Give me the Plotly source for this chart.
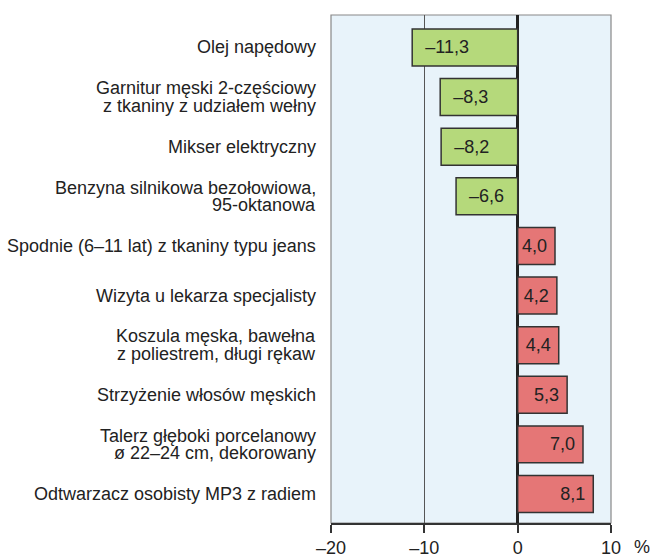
import plotly.graph_objects as go

categories = [
    "Olej napędowy",
    "Garnitur męski 2-częściowy<br>z tkaniny z udziałem wełny",
    "Mikser elektryczny",
    "Benzyna silnikowa bezołowiowa,<br>95-oktanowa",
    "Spodnie (6–11 lat) z tkaniny typu jeans",
    "Wizyta u lekarza specjalisty",
    "Koszula męska, bawełna<br>z poliestrem, długi rękaw",
    "Strzyżenie włosów męskich",
    "Talerz głęboki porcelanowy<br>ø 22–24 cm, dekorowany",
    "Odtwarzacz osobisty MP3 z radiem",
]
values = [-11.3, -8.3, -8.2, -6.6, 4.0, 4.2, 4.4, 5.3, 7.0, 8.1]
x_ticks = [-20, -10, 0, 10]
x_ticktext = ["–20", "–10", "0", "10"]

FONT = "Liberation Sans, Arial, Helvetica, sans-serif"
NB = "\u00a0"

def fmt(v):
    s = f"{abs(v):.1f}".replace(".", ",")
    return (NB + NB + "–" + s) if v < 0 else (s + NB)

pos = list(range(len(categories)))
colors = ["#b5d97b" if v < 0 else "#e57676" for v in values]

fig = go.Figure(go.Bar(
    x=values, y=pos, orientation="h",
    marker=dict(color=colors, line=dict(color="#333333", width=1.5)),
    width=0.745,
    text=[fmt(v) for v in values],
    textposition="inside", insidetextanchor="end",
    textfont=dict(family=FONT, size=18, color="#222222"),
    hoverinfo="skip",
))

fig.update_layout(
    width=651, height=557,
    margin=dict(l=331, r=40, t=15, b=34, autoexpand=False),
    paper_bgcolor="white", plot_bgcolor="#e8f3fa",
    font=dict(family=FONT, size=18, color="#222222"),
    showlegend=False,
    uniformtext=dict(mode="show", minsize=10),
)
fig.update_xaxes(
    range=[-20, 10], tickvals=x_ticks, ticktext=x_ticktext,
    showgrid=True, gridcolor="#555555", gridwidth=1.2,
    zeroline=True, zerolinecolor="#222222", zerolinewidth=2.5,
    ticks="outside", ticklen=8, tickcolor="#333333", tickwidth=1.5,
    showline=True, linecolor="#333333", linewidth=1.5,
    tickfont=dict(size=18), ticklabelstandoff=0, automargin=False,
)
fig.update_yaxes(
    range=[9.585, -0.655], tickvals=pos, ticktext=[""] * len(pos),
    showgrid=False, zeroline=False, ticks="", showline=False, automargin=False,
)
fig.add_shape(type="rect", xref="paper", yref="paper", x0=0, x1=1, y0=0, y1=1,
              line=dict(color="#888888", width=1.2), layer="below")

for i, cat in enumerate(categories):
    lines = cat.split("<br>")
    n = len(lines)
    for j, line in enumerate(lines):
        fig.add_annotation(
            x=0, xref="paper", y=i, yref="y", text=line, showarrow=False,
            xanchor="right", yanchor="middle", xshift=-13,
            yshift=(n - 1) * 8.75 - j * 17.5,
            font=dict(family=FONT, size=18, color="#222222"),
        )

fig.add_annotation(x=1, xref="paper", y=0, yref="paper", text="%",
                   showarrow=False, xanchor="left", yanchor="top",
                   xshift=21, yshift=-12, font=dict(family=FONT, size=18))
fig.write_html("out.html", config={"displayModeBar": False},
               post_script="document.body.style.margin='0';")
